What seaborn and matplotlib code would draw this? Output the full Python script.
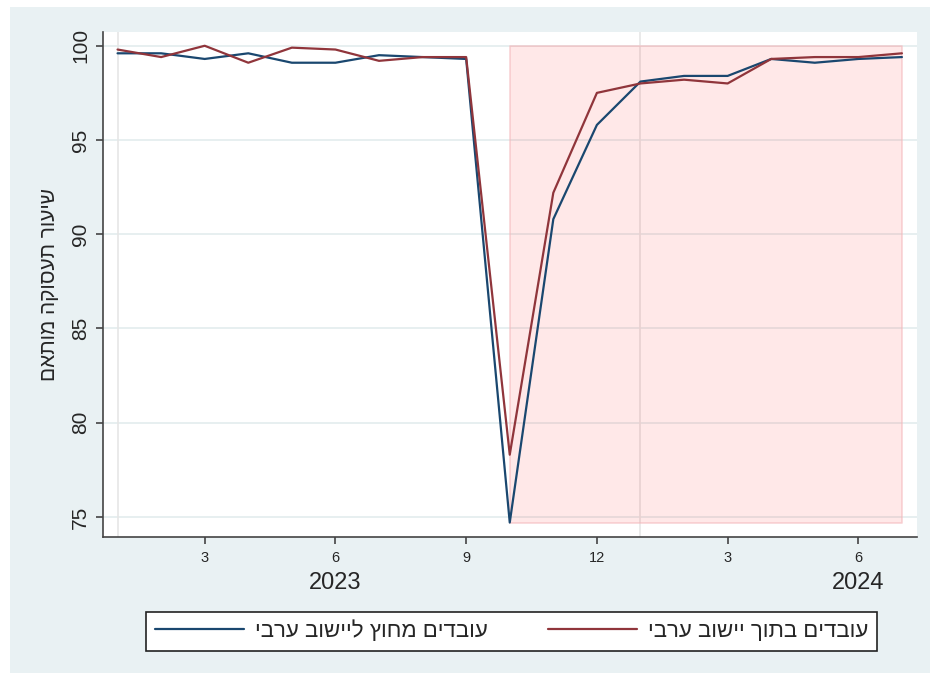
import numpy as np
import pandas as pd
import matplotlib
matplotlib.use("Agg")
import matplotlib.pyplot as plt
import matplotlib.transforms as mtransforms
from matplotlib.patches import Rectangle
import seaborn as sns

# months since Jan 2023 (1 = Jan 2023 ... 19 = Jul 2024)
months = list(range(1, 20))
outside = [99.6, 99.6, 99.3, 99.6, 99.1, 99.1, 99.5, 99.4, 99.3, 74.7,
           90.8, 95.8, 98.1, 98.4, 98.4, 99.3, 99.1, 99.3, 99.4]
inside = [99.8, 99.4, 100.0, 99.1, 99.9, 99.8, 99.2, 99.4, 99.4, 78.3,
          92.2, 97.5, 98.0, 98.2, 98.0, 99.3, 99.4, 99.4, 99.6]

lbl_outside = "עובדים מחוץ ליישוב ערבי"
lbl_inside = "עובדים בתוך יישוב ערבי"
ylabel = "שיעור תעסוקה מותאם"

xtick_pos = [3, 6, 9, 12, 15, 18]
xtick_lbl = ["3", "6", "9", "12", "3", "6"]
ytick_pos = [75, 80, 85, 90, 95, 100]
years = ["2023", "2024"]
year_pos = [6, 18]
year_start = [1, 13]

# war period shading
shade_from, shade_to = 10, 19
shade_lo, shade_hi = 74.7, 100


def rtl(s):
    # matplotlib has no bidi support, flip hebrew for display
    return s[::-1]


df = pd.DataFrame({
    "month": months * 2,
    "rate": outside + inside,
    "group": [lbl_outside] * len(months) + [lbl_inside] * len(months),
})

sns.set_style("white")
plt.rcParams["font.family"] = ["Liberation Sans", "DejaVu Sans"]

navy = "#1A476F"
maroon = "#90353B"
bg = "#E9F1F3"

fig = plt.figure(figsize=(9.34, 6.77), dpi=100)
fig.patch.set_facecolor("white")
fig.patches.append(Rectangle((10 / 934, 4 / 677), 920 / 934, 666 / 677,
                             transform=fig.transFigure, facecolor=bg,
                             edgecolor="none", zorder=-10))

ax = fig.add_axes([0.110, 0.207, 0.872, 0.746])
ax.set_facecolor("white")

# grid
for y in ytick_pos:
    ax.axhline(y, color="#E3ECEE", lw=1.2, zorder=0)
for x in year_start:
    ax.axvline(x, color="#E6E6E6", lw=1.2, zorder=0)

shade_x = [m for m in months if shade_from <= m <= shade_to]
ax.fill_between(shade_x, shade_lo, shade_hi, color="#FF0000", alpha=0.09,
                lw=0, zorder=1)
ax.fill_between(shade_x, shade_lo, shade_hi, facecolor="none",
                edgecolor="#F4B8BC", lw=1.2, alpha=0.6, zorder=1)

sns.lineplot(data=df, x="month", y="rate", hue="group",
             hue_order=[lbl_outside, lbl_inside],
             palette={lbl_outside: navy, lbl_inside: maroon},
             lw=1.6, ax=ax, legend=False, zorder=3)

ax.set_xlim(0.66, 19.35)
ax.set_ylim(73.94, 100.74)

ax.set_xticks(xtick_pos)
ax.set_xticklabels(xtick_lbl, fontsize=10.5)
ax.set_yticks(ytick_pos)
ax.set_yticklabels([str(v) for v in ytick_pos], fontsize=15, rotation=90,
                   va="center")
ax.tick_params(axis="both", direction="out", length=5, width=1.2,
               color="#444444", left=True, bottom=True)
ax.tick_params(axis="x", pad=5)
ax.tick_params(axis="y", pad=4)

for side in ["top", "right"]:
    ax.spines[side].set_visible(False)
for side in ["left", "bottom"]:
    ax.spines[side].set_color("#444444")
    ax.spines[side].set_linewidth(1.2)

ax.set_xlabel("")
ax.set_ylabel(rtl(ylabel), fontsize=15, labelpad=9)

trans = mtransforms.blended_transform_factory(ax.transData, fig.transFigure)
for yr, xp in zip(years, year_pos):
    ax.text(xp, 1 - 583 / 677, yr, transform=trans, ha="center", va="center",
            fontsize=17)

handles = [plt.Line2D([], [], color=navy, lw=1.6),
           plt.Line2D([], [], color=maroon, lw=1.6)]
leg = fig.legend(handles, [rtl(lbl_outside), rtl(lbl_inside)], ncol=2,
                 loc="lower left",
                 bbox_to_anchor=(146 / 934, 26 / 677, 731 / 934, 42 / 677),
                 mode="expand", fontsize=16, handlelength=4.0, frameon=True,
                 fancybox=False, edgecolor="#222222", framealpha=1,
                 borderpad=0.4, borderaxespad=0, handletextpad=0.5)
leg.get_frame().set_linewidth(1.2)

fig.savefig("out.png", dpi=100, facecolor=fig.get_facecolor())
